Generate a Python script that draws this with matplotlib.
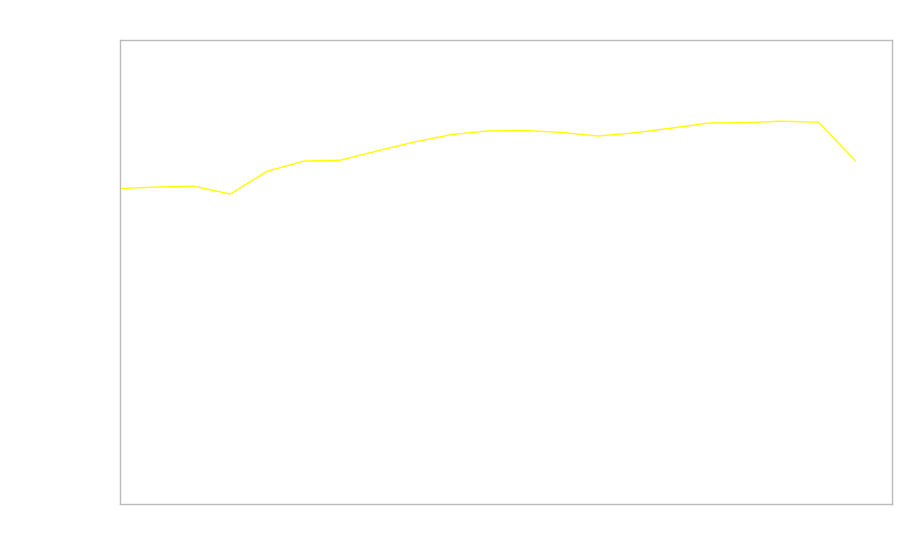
import matplotlib
matplotlib.use("Agg")
import matplotlib.pyplot as plt

periods = list(range(21))
values = [68.0, 68.3, 68.5, 66.8, 71.7, 73.9, 74.1, 76.1, 78.0, 79.6, 80.4,
          80.5, 80.1, 79.3, 80.0, 81.0, 82.1, 82.2, 82.5, 82.3, 74.0]

fig = plt.figure(figsize=(9, 5.6), dpi=100)
ax = fig.add_axes([120/900, 56/560, 772/900, 464/560])
ax.plot(periods, values, color="#ffff00", linewidth=1.0)
ax.set_xlim(0, 21)
ax.set_ylim(0, 100)
ax.set_xticks([])
ax.set_yticks([])
for s in ax.spines.values():
    s.set_color("#bbbbbb")
    s.set_linewidth(1.0)
fig.savefig("out.png", dpi=100)
